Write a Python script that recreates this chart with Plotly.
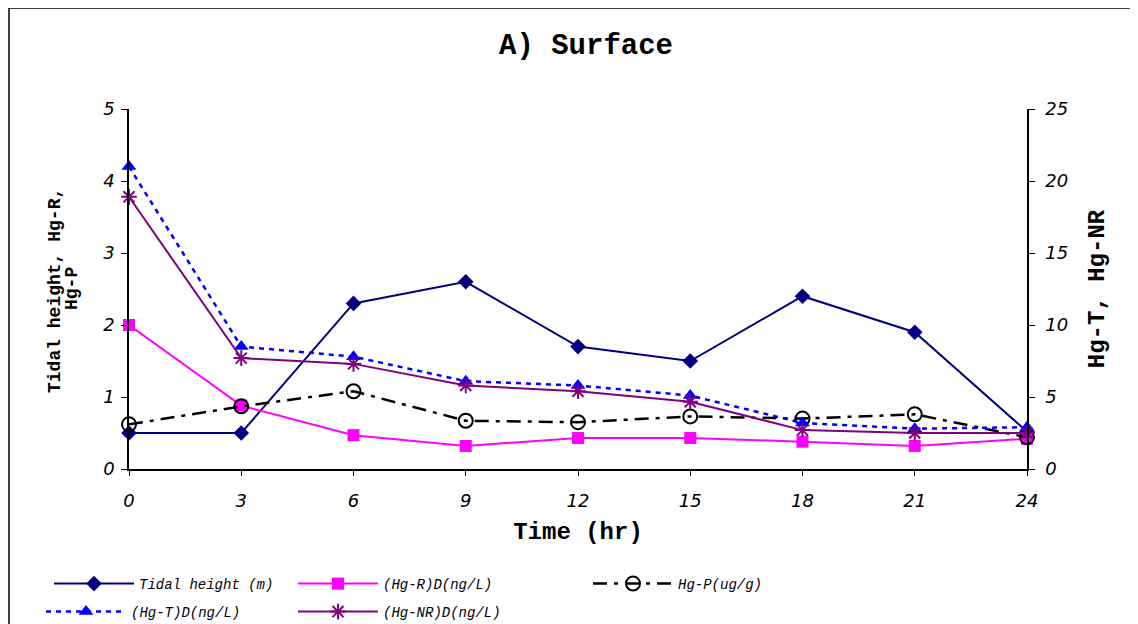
import plotly.graph_objects as go

time_hr = [0, 3, 6, 9, 12, 15, 18, 21, 24]
tidal_height = [0.5, 0.5, 2.3, 2.6, 1.7, 1.5, 2.4, 1.9, 0.52]
hg_r = [2.0, 0.88, 0.47, 0.32, 0.43, 0.43, 0.38, 0.32, 0.42]
hg_p = [0.62, 0.87, 1.08, 0.67, 0.65, 0.73, 0.70, 0.76, 0.44]
hg_t = [21.0, 8.5, 7.8, 6.1, 5.8, 5.1, 3.2, 2.8, 2.9]
hg_nr = [18.9, 7.7, 7.3, 5.8, 5.4, 4.67, 2.7, 2.5, 2.5]

x_ticks = [0, 3, 6, 9, 12, 15, 18, 21, 24]

MONO = "Liberation Mono, Courier New, monospace"
SANS = "DejaVu Sans, Verdana, sans-serif"

# plot area in screen pixels (page has an 8px body margin)
PX0, PX1, PY0, PY1 = 129, 1027, 109, 469
PW, PH = PX1 - PX0, PY1 - PY0


def px(xs):
    return (xs - PX0) / PW


def py(ys):
    return (PY1 - ys) / PH


ITEMW = 80
TXT_OFF = ITEMW + 10

fig = go.Figure()

fig.add_trace(go.Scatter(
    x=time_hr, y=tidal_height, name="Tidal height (m)", mode="lines+markers",
    line=dict(color="#000080", width=2),
    marker=dict(symbol="diamond", size=12, color="#000080"),
    cliponaxis=False, yaxis="y", legend="legend"))
fig.add_trace(go.Scatter(
    x=time_hr, y=hg_r, name="(Hg-R)D(ng/L)", mode="lines+markers",
    line=dict(color="#FF00FF", width=2),
    marker=dict(symbol="square", size=12, color="#FF00FF"),
    cliponaxis=False, yaxis="y", legend="legend2"))
fig.add_trace(go.Scatter(
    x=time_hr, y=hg_p, name="Hg-P(ug/g)", mode="lines+markers",
    line=dict(color="#000000", width=2.5, dash="14px,7px,4px,7px"),
    marker=dict(symbol="circle-open", size=14, color="#000000", line=dict(width=2, color="#000000")),
    cliponaxis=False, yaxis="y", legend="legend3"))
fig.add_trace(go.Scatter(
    x=time_hr, y=hg_t, name="(Hg-T)D(ng/L)", mode="lines+markers",
    line=dict(color="#0000FF", width=2.5, dash="5px,5px"),
    marker=dict(symbol="triangle-up", size=13, color="#0000FF"),
    cliponaxis=False, yaxis="y2", legend="legend4"))
fig.add_trace(go.Scatter(
    x=time_hr, y=hg_nr, name="(Hg-NR)D(ng/L)", mode="lines+markers",
    line=dict(color="#800080", width=2),
    marker=dict(symbol="asterisk-open", size=13, color="#800080", line=dict(width=2, color="#800080")),
    cliponaxis=False, yaxis="y2", legend="legend5"))

legend_common = dict(orientation="h", xanchor="left", yanchor="middle",
                     font=dict(family=MONO, size=14, color="black", style="italic"),
                     bgcolor="rgba(0,0,0,0)", itemwidth=ITEMW)

fig.update_layout(
    width=1130, height=616,
    margin=dict(l=PX0 - 8, r=1130 - (PX0 - 8) - PW, t=PY0 - 8, b=616 - (PY0 - 8) - PH, autoexpand=False),
    paper_bgcolor="white", plot_bgcolor="white",
    showlegend=True,
    title=dict(text="<b>A) Surface</b>", x=px(586), xref="paper", xanchor="center",
               y=1 - (44 - 8) / 616, yanchor="middle",
               font=dict(family=MONO, size=29, color="black")),
    xaxis=dict(range=[0, 24], tickvals=x_ticks, ticktext=[str(v) for v in x_ticks],
               showgrid=False, zeroline=False, showline=True, linecolor="black", linewidth=1.5,
               ticks="outside", ticklen=5, tickcolor="black", ticklabelstandoff=10,
               tickfont=dict(family=SANS, size=18, color="black", style="italic"),
               title=dict(text="<b>Time (hr)</b>", font=dict(family=MONO, size=24, color="black"), standoff=12)),
    yaxis=dict(range=[0, 5], dtick=1, showgrid=False, zeroline=False, showline=True,
               linecolor="black", linewidth=1.5, ticks="outside", ticklen=6, tickcolor="black",
               ticklabelstandoff=3,
               tickfont=dict(family=SANS, size=18, color="black", style="italic")),
    yaxis2=dict(range=[0, 25], dtick=5, overlaying="y", side="right", showgrid=False, zeroline=False,
                showline=True, linecolor="black", linewidth=1.5, ticks="outside", ticklen=6, tickcolor="black",
                ticklabelstandoff=7,
                tickfont=dict(family=SANS, size=18, color="black", style="italic"),
                title=dict(text="<b>Hg-T, Hg-NR</b>", font=dict(family=MONO, size=24, color="black"), standoff=20)),
    legend=dict(x=px(139 - TXT_OFF), y=py(584), **legend_common),
    legend2=dict(x=px(383 - TXT_OFF), y=py(584), **legend_common),
    legend3=dict(x=px(678 - TXT_OFF), y=py(584), **legend_common),
    legend4=dict(x=px(131 - TXT_OFF), y=py(612), **legend_common),
    legend5=dict(x=px(383 - TXT_OFF), y=py(612), **legend_common),
    annotations=[
        dict(text="<b>Tidal height, Hg-R,</b>", xref="paper", yref="paper", x=px(55), y=py(291),
             xanchor="center", yanchor="middle", textangle=-90, showarrow=False,
             font=dict(family=MONO, size=18, color="black")),
        dict(text="<b>Hg-P</b>", xref="paper", yref="paper", x=px(72), y=py(289),
             xanchor="center", yanchor="middle", textangle=-90, showarrow=False,
             font=dict(family=MONO, size=18, color="black")),
    ],
    shapes=[dict(type="rect", xref="paper", yref="paper",
                 x0=px(9), x1=px(1137), y0=py(640), y1=py(8),
                 line=dict(color="black", width=1.5), fillcolor="rgba(0,0,0,0)", layer="below")],
)

fig.write_html("out.html")
